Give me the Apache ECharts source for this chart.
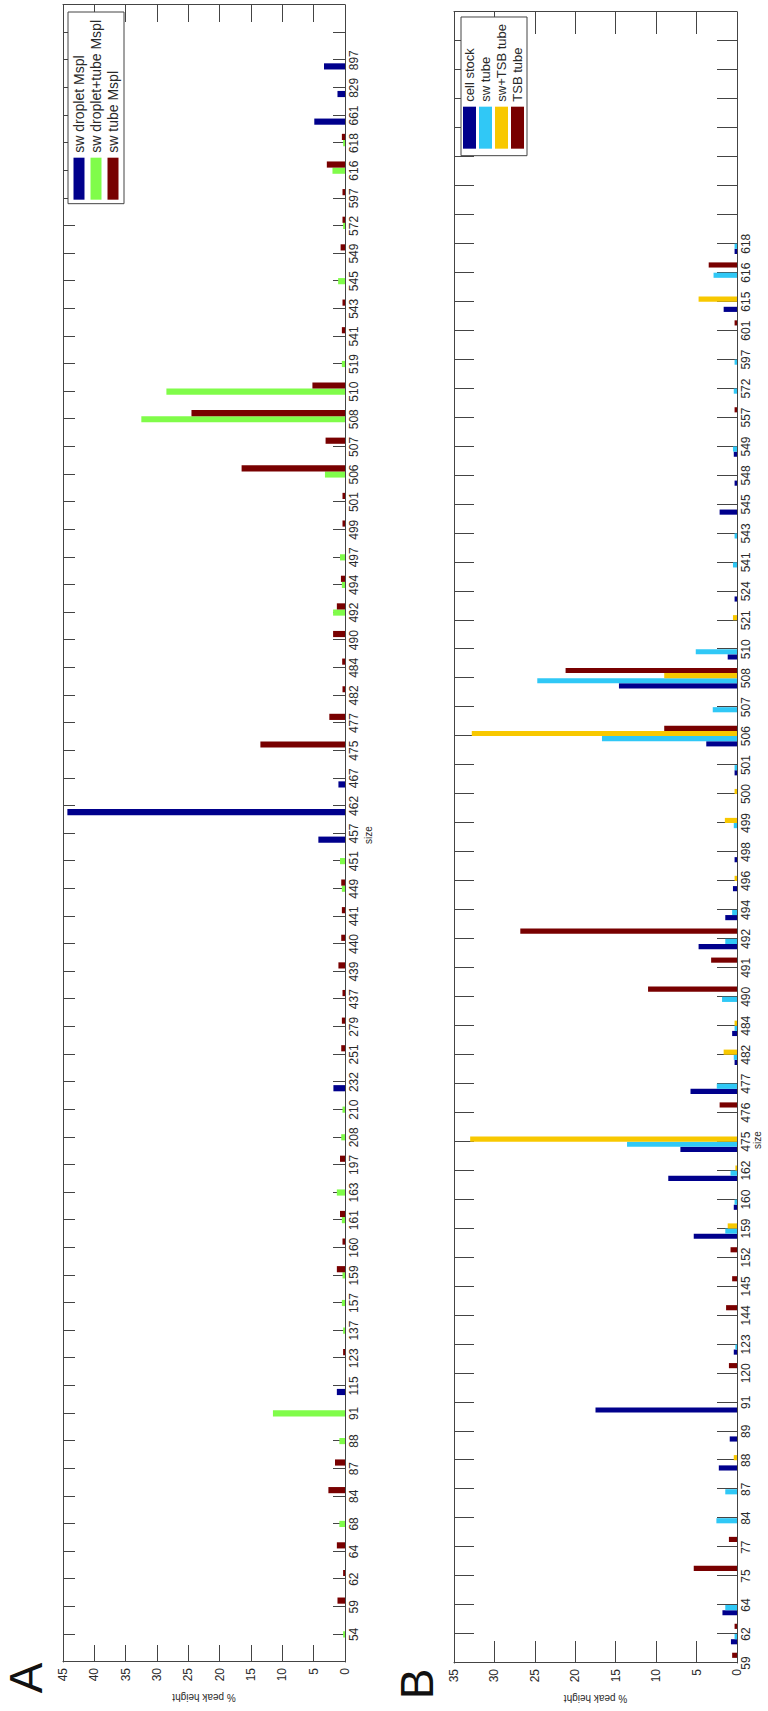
<!DOCTYPE html>
<html>
<head>
<meta charset="utf-8">
<script src="https://cdn.jsdelivr.net/npm/echarts@6/dist/echarts.min.js"></script>
<style>
  html, body { margin: 0; padding: 0; background: #fff; overflow: hidden; width: 768px; height: 1711px; }
  /* the figure is laid out landscape and turned a quarter turn counter-clockwise */
  #fig { position: absolute; left: 0; top: 0; width: 1711px; height: 768px;
         transform-origin: 0 0; transform: translate(0px, 1711px) rotate(-90deg); background: #fff; }
</style>
</head>
<body>
<div id="fig"></div>
<script>
// ---------- panel A : fragment sizes and % peak height ----------
const sizesA = [54, 59, 62, 64, 68, 84, 87, 88, 91, 115, 123, 137, 157, 159, 160, 161, 163, 197, 208, 210,
  232, 251, 279, 437, 439, 440, 441, 449, 451, 457, 462, 467, 475, 477, 482, 484, 490, 492, 494, 497,
  499, 501, 506, 507, 508, 510, 519, 541, 543, 545, 549, 572, 597, 616, 618, 661, 829, 897];
const swDropletMspl = [0, 0, 0, 0, 0, 0, 0, 0, 0, 1.3, 0, 0, 0, 0, 0, 0, 0, 0, 0, 0,
  1.85, 0, 0, 0, 0, 0, 0, 0, 0, 4.25, 44.3, 1.05, 0, 0, 0, 0, 0, 0, 0, 0,
  0, 0, 0, 0, 0, 0, 0, 0, 0, 0, 0, 0, 0, 0, 0, 4.9, 1.2, 3.35];
const swDropletTubeMspl = [0.3, 0, 0, 0, 0.9, 0, 0, 0.9, 11.5, 0, 0, 0.3, 0.5, 0.4, 0, 0.5, 1.3, 0, 0.6, 0.4,
  0, 0, 0, 0, 0, 0, 0, 0.5, 0.8, 0, 0, 0, 0, 0, 0, 0, 0, 1.9, 0.5, 0.8,
  0, 0, 3.2, 0, 32.5, 28.5, 0.5, 0, 0, 1.1, 0, 0.3, 0, 2.0, 0.3, 0, 0, 0];
const swTubeMspl = [0, 1.2, 0.3, 1.3, 0, 2.65, 1.6, 0, 0, 0, 0.3, 0, 0, 1.3, 0.4, 0.8, 0, 0.8, 0, 0,
  0, 0.6, 0.5, 0.4, 1.05, 0.6, 0.5, 0.6, 0, 0, 0, 0, 13.5, 2.5, 0.4, 0.45, 1.9, 1.3, 0.65, 0,
  0.4, 0.4, 16.5, 3.1, 24.5, 5.2, 0, 0.5, 0.4, 0, 0.7, 0.4, 0.4, 2.9, 0.5, 0, 0, 0];
const ticksA = [0, 5, 10, 15, 20, 25, 30, 35, 40, 45];

// ---------- panel B ----------
const sizesB = [59, 62, 64, 75, 77, 84, 87, 88, 89, 91, 120, 123, 144, 145, 152, 159, 160, 162, 475, 476,
  477, 482, 484, 490, 491, 492, 494, 496, 498, 499, 500, 501, 506, 507, 508, 510, 521, 524, 541, 543,
  545, 548, 549, 557, 572, 597, 601, 615, 616, 618];
const cellStock = [0, 0.75, 1.8, 0, 0, 0, 0, 2.25, 0.9, 17.5, 0, 0.4, 0, 0, 0, 5.35, 0.4, 8.5, 7, 0,
  5.75, 0.3, 0.6, 0, 0, 4.75, 1.45, 0.5, 0.3, 0, 0, 0.3, 3.8, 0, 14.6, 1.15, 0, 0.3, 0, 0,
  2.15, 0.3, 0.4, 0, 0, 0, 0, 1.65, 0, 0.3];
const swTube = [0, 0.3, 1.45, 0, 0, 2.55, 1.45, 0, 0, 0, 0, 0.2, 0, 0, 0, 1.45, 0.3, 0.8, 13.6, 0,
  2.5, 0.4, 0.3, 1.85, 0, 1.45, 0.6, 0, 0, 0.4, 0, 0.3, 16.7, 3.0, 24.7, 5.1, 0, 0, 0.5, 0.3,
  0, 0, 0.5, 0, 0.4, 0.3, 0, 0, 2.9, 0.3];
const swTsbTube = [0, 0, 0, 0, 0, 0, 0, 0.4, 0, 0, 0, 0, 0, 0, 0, 1.15, 0, 0.2, 33, 0,
  0, 1.65, 0.3, 0, 0, 0, 0, 0.3, 0, 1.5, 0.3, 0, 32.8, 0, 9, 0, 0.5, 0, 0, 0,
  0, 0, 0, 0, 0, 0, 0, 4.75, 0, 0];
const tsbTube = [0.6, 0.3, 0, 5.35, 1.0, 0, 0, 0, 0, 0, 1.0, 0, 1.35, 0.6, 0.8, 0, 0, 0, 0, 2.15,
  0, 0, 0, 11, 3.2, 26.8, 0, 0, 0, 0, 0, 0, 9, 0, 21.2, 0, 0, 0, 0, 0,
  0, 0, 0, 0.3, 0, 0, 0.3, 0, 3.5, 0];
const ticksB = [0, 5, 10, 15, 20, 25, 30, 35];

const FONT = '"Liberation Sans", Arial, Helvetica, sans-serif';
const AX = '#444';
const TXT = '#2a2a2a';
const NAVY = '#00008c', LIME = '#80fc4a', MAROON = '#780000', SKY = '#30c8f6', GOLD = '#f8c800';

// category slots: A has one empty slot before and two after the sizes,
// B starts on its first size and keeps eight empty slots at the end
const catsA = [''].concat(sizesA.map(String), ['', '']);
const padA = arr => [null].concat(arr, [null, null]);
const catsB = sizesB.map(String).concat(['', '', '', '', '', '', '', '']);
const padB = arr => arr.concat([null, null, null, null, null, null, null, null]);

function catAxis(grid, cats, pos, tickLen, labels) {
  return {
    gridIndex: grid, type: 'category', data: cats, boundaryGap: false, position: pos,
    axisLine: { show: true, onZero: false, lineStyle: { color: AX, width: 1 } },
    axisTick: { show: true, inside: true, length: tickLen, interval: 0, lineStyle: { color: AX } },
    axisLabel: { show: labels, interval: 0, fontSize: 12, margin: 3, color: TXT, fontFamily: FONT },
    splitLine: { show: false }
  };
}
function valAxis(grid, ticks, pos, tickLen, labels) {
  const ax = {
    gridIndex: grid, type: 'value', position: pos,
    min: ticks[0], max: ticks[ticks.length - 1], interval: ticks[1] - ticks[0],
    axisLine: { show: true, onZero: false, lineStyle: { color: AX, width: 1 } },
    axisTick: { show: true, inside: true, length: tickLen, lineStyle: { color: AX } },
    axisLabel: { show: labels, fontSize: 12, margin: 6, color: TXT, fontFamily: FONT },
    splitLine: { show: false }
  };
  if (labels) {
    ax.name = '% peak height';
    ax.nameLocation = 'middle';
    ax.nameGap = 28;
    ax.nameTextStyle = { fontSize: 10, color: TXT, fontFamily: FONT };
  }
  return ax;
}
function bars(name, data, xi, yi, color, gap) {
  return {
    type: 'bar', name: name, data: data, xAxisIndex: xi, yAxisIndex: yi,
    itemStyle: { color: color }, barGap: '0%', barCategoryGap: gap, clip: true, silent: true
  };
}

const chart = echarts.init(document.getElementById('fig'), null, { renderer: 'svg', width: 1711, height: 768 });
chart.setOption({
  animation: false,
  backgroundColor: '#fff',
  textStyle: { fontFamily: FONT },
  grid: [
    { left: 49, right: 5, top: 63, height: 282, outerBoundsMode: 'none' },
    { left: 48, right: 12, top: 454, height: 283, outerBoundsMode: 'none' }
  ],
  xAxis: [
    catAxis(0, catsA, 'bottom', 12, true),
    catAxis(0, catsA, 'top', 12, false),
    catAxis(1, catsB, 'bottom', 20, true),
    catAxis(1, catsB, 'top', 20, false)
  ],
  yAxis: [
    valAxis(0, ticksA, 'left', 17, true),
    valAxis(0, ticksA, 'right', 17, false),
    valAxis(1, ticksB, 'left', 22, true),
    valAxis(1, ticksB, 'right', 22, false)
  ],
  legend: [
    {
      data: ['sw droplet Mspl', 'sw droplet+tube Mspl', 'sw tube Mspl'],
      orient: 'vertical', right: 12, top: 68, icon: 'rect', selectedMode: false,
      itemWidth: 42, itemHeight: 11, itemGap: 3, padding: [4, 8, 4, 4],
      borderColor: AX, borderWidth: 1, backgroundColor: '#fff',
      textStyle: { fontSize: 14, lineHeight: 11, color: TXT, fontFamily: FONT }
    },
    {
      data: ['cell stock', 'sw tube', 'sw+TSB tube', 'TSB tube'],
      orient: 'vertical', right: 17, top: 461, icon: 'rect', selectedMode: false,
      itemWidth: 42, itemHeight: 13, itemGap: 3, padding: [2, 7, 3, 7],
      borderColor: AX, borderWidth: 1, backgroundColor: '#fff',
      textStyle: { fontSize: 13, lineHeight: 13, color: TXT, fontFamily: FONT }
    }
  ],
  graphic: [
    { type: 'text', x: 33, y: 26, style: { text: 'A', fontSize: 46, fontFamily: FONT, fill: '#111', align: 'center', verticalAlign: 'middle' } },
    { type: 'text', x: 27, y: 417, style: { text: 'B', fontSize: 46, fontFamily: FONT, fill: '#111', align: 'center', verticalAlign: 'middle' } },
    { type: 'text', x: 876, y: 368, style: { text: 'size', fontSize: 10, fontFamily: FONT, fill: TXT, align: 'center', verticalAlign: 'middle' } },
    { type: 'text', x: 571, y: 757, style: { text: 'size', fontSize: 10, fontFamily: FONT, fill: TXT, align: 'center', verticalAlign: 'middle' } }
  ],
  series: [
    bars('sw droplet Mspl', padA(swDropletMspl), 0, 0, NAVY, '33%'),
    bars('sw droplet+tube Mspl', padA(swDropletTubeMspl), 0, 0, LIME, '33%'),
    bars('sw tube Mspl', padA(swTubeMspl), 0, 0, MAROON, '33%'),
    bars('cell stock', padB(cellStock), 2, 2, NAVY, '29%'),
    bars('sw tube', padB(swTube), 2, 2, SKY, '29%'),
    bars('sw+TSB tube', padB(swTsbTube), 2, 2, GOLD, '29%'),
    bars('TSB tube', padB(tsbTube), 2, 2, MAROON, '29%')
  ]
});
</script>
</body>
</html>
